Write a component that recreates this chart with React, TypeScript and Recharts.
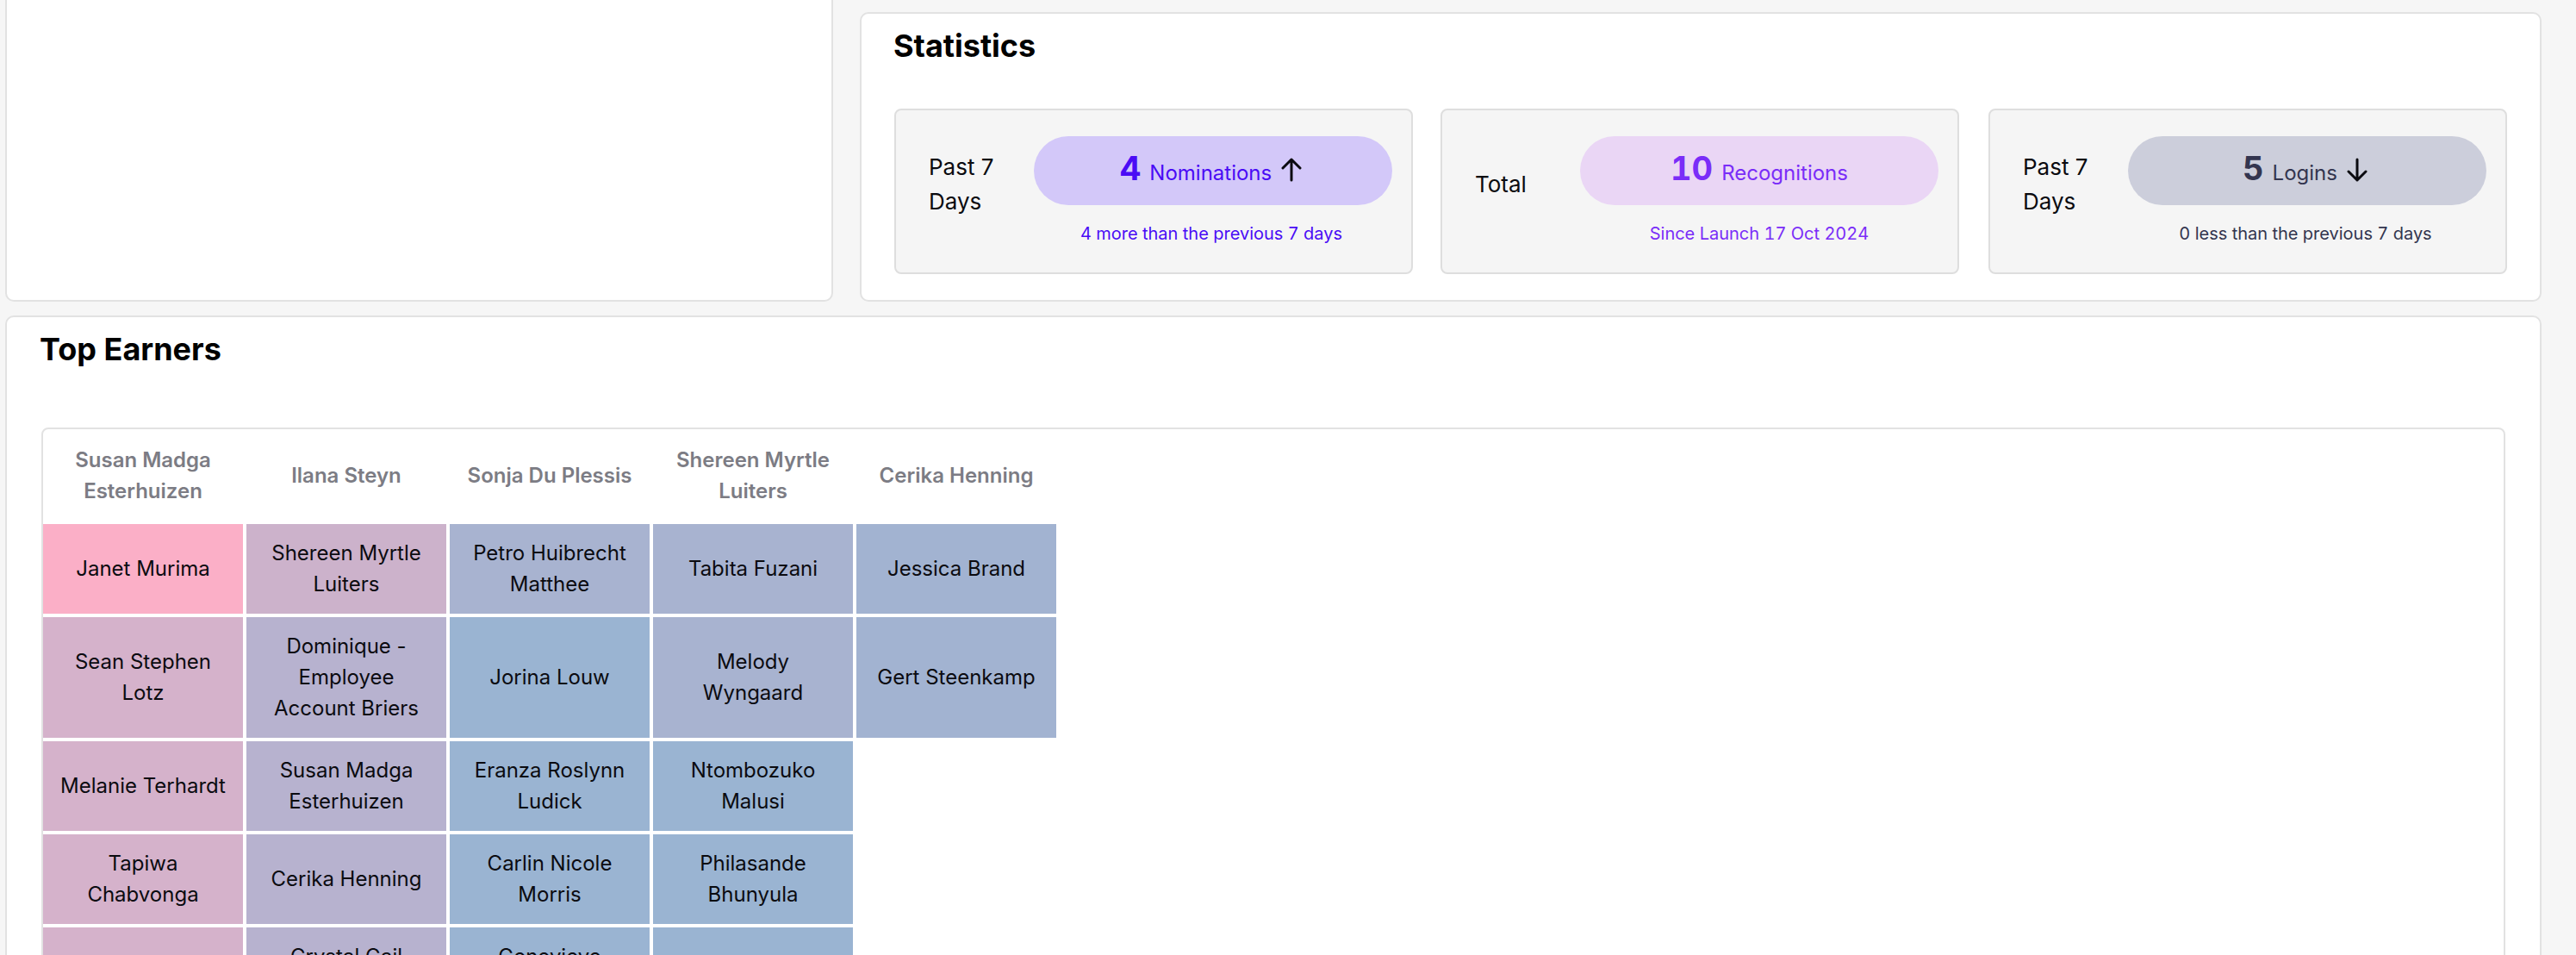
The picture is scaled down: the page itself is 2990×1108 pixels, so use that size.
import { BarChart, Bar, XAxis, YAxis, Text } from "recharts";

const FONT = "Inter, sans-serif";

const STAT_PERIODS = ["Past 7 Days", "Total", "Past 7 Days"];
const STAT_VALUES = [4, 10, 5];
const STAT_UNITS = ["Nominations", "Recognitions", "Logins"];
const STAT_ARROWS = ["up", null, "down"];
const STAT_NOTES = [
  "4 more than the previous 7 days",
  "Since Launch 17 Oct 2024",
  "0 less than the previous 7 days",
];
const STAT_INK = ["#4a0cf5", "#7a2df8", "#33354f"];
const STAT_PILLS = ["#d3c8f9", "#ead6f5", "#cccedb"];
const STAT_LEFT = [1038, 1672, 2308];

const COLUMN_HEADERS = [
  "Susan Madga Esterhuizen",
  "Ilana Steyn",
  "Sonja Du Plessis",
  "Shereen Myrtle Luiters",
  "Cerika Henning",
];
// names under each header, top to bottom. The last row is cut off by the window
const COLUMN_1 = ["Janet Murima", "Sean Stephen Lotz", "Melanie Terhardt", "Tapiwa Chabvonga", ""];
const COLUMN_2 = ["Shereen Myrtle Luiters", "Dominique - Employee Account Briers", "Susan Madga Esterhuizen", "Cerika Henning", "Crystal Gail"];
const COLUMN_3 = ["Petro Huibrecht Matthee", "Jorina Louw", "Eranza Roslynn Ludick", "Carlin Nicole Morris", "Genevieve"];
const COLUMN_4 = ["Tabita Fuzani", "Melody Wyngaard", "Ntombozuko Malusi", "Philasande Bhunyula", ""];
const COLUMN_5 = ["Jessica Brand", "Gert Steenkamp"];
const COLUMNS = [COLUMN_1, COLUMN_2, COLUMN_3, COLUMN_4, COLUMN_5];

// text lines in the tallest cell of each row
const ROW_LINES = [2, 3, 2, 2, 2];

// colour band of every cell
const CELL_BANDS = [
  [0, 1, 1, 1, 1],
  [2, 3, 3, 3, 3],
  [4, 5, 5, 5, 5],
  [4, 4, 5, 5, 5],
  [6, 6],
];
const BAND_COLORS = ["#fbafc7", "#d5b2cb", "#ccb2cb", "#b7b2cf", "#a8b3d0", "#9ab4d2", "#a2b3d1"];

const LINE_HEIGHT = 36;
const ROW_PADDING = 36;
const TEXT_NUDGE = 1;
const rowSpan = (lines: number) => lines * LINE_HEIGHT + ROW_PADDING;
const TOTAL_SPAN = ROW_LINES.reduce((sum, lines) => sum + rowSpan(lines), 0);
const HEADER_HEIGHT = 108;

const tableData = COLUMN_HEADERS.map((header, c) => {
  const row: Record<string, string | number> = { header };
  COLUMNS[c].forEach((_, r) => {
    row[`row${r}`] = rowSpan(ROW_LINES[r]);
  });
  return row;
});

function HeaderTick({ x, y, payload }: any) {
  return (
    <Text
      x={x}
      y={y - HEADER_HEIGHT / 2 - TEXT_NUDGE}
      width={200}
      textAnchor="middle"
      verticalAnchor="middle"
      lineHeight="1.5em"
      fill="#7c7c84"
      style={{ fontFamily: FONT, fontSize: "24px", fontWeight: 600 }}
    >
      {payload.value}
    </Text>
  );
}

function renderCell(rowIndex: number) {
  return (props: any) => {
    const { x, width, index } = props;
    const name = COLUMNS[index][rowIndex];
    if (name === undefined) return <g />;
    // the axis is reversed, so a bar can come with a negative height
    const top = Math.min(props.y, props.y + props.height);
    const height = Math.abs(props.height);
    // the rest of these names falls below the window, so the visible line sits where a first line would
    const isCutOff = rowIndex === ROW_LINES.length - 1;
    const textY = top + height / 2 - TEXT_NUDGE - (isCutOff ? LINE_HEIGHT / 2 : 0);
    return (
      <g>
        <rect
          x={x}
          y={top + 2}
          width={width}
          height={height - 4}
          fill={BAND_COLORS[CELL_BANDS[index][rowIndex]]}
        />
        <Text
          x={x + width / 2}
          y={textY}
          width={200}
          textAnchor="middle"
          verticalAnchor="middle"
          lineHeight="1.5em"
          fill="#0b0b10"
          style={{ fontFamily: FONT, fontSize: "24px", fontWeight: 400 }}
        >
          {name}
        </Text>
      </g>
    );
  };
}

function Arrow({ dir }: { dir: string }) {
  return (
    <svg width={26} height={28} viewBox="0 0 26 28" style={{ alignSelf: "center", marginTop: -2 }}>
      <path
        d={dir === "up" ? "M13 26V2M3 12L13 2L23 12" : "M13 2V26M3 16L13 26L23 16"}
        fill="none"
        stroke="#0b0b10"
        strokeWidth={3}
        strokeLinecap="round"
        strokeLinejoin="round"
      />
    </svg>
  );
}

function StatCard({ i }: { i: number }) {
  const hasArrow = STAT_ARROWS[i] !== null;
  return (
    <div
      style={{
        position: "absolute", left: STAT_LEFT[i], top: 126, width: 602, height: 192,
        boxSizing: "border-box", background: "#f5f5f5", border: "2px solid #dedede", borderRadius: 8,
      }}
    >
      <div
        style={{
          position: "absolute", left: 38, top: 0, height: 172, width: 110,
          display: "flex", alignItems: "center", fontSize: 26, lineHeight: "40px", color: "#0b0b10",
        }}
      >
        {STAT_PERIODS[i]}
      </div>
      <div
        style={{
          position: "absolute", left: 160, top: 30, width: 416, height: 80, borderRadius: 40,
          boxSizing: "border-box", paddingRight: hasArrow ? 4 : 0,
          background: STAT_PILLS[i], color: STAT_INK[i],
          display: "flex", alignItems: "baseline", justifyContent: "center", gap: 10,
          lineHeight: "75px", fontVariantNumeric: "tabular-nums",
        }}
      >
        <span style={{ fontSize: 38, fontWeight: 700 }}>{STAT_VALUES[i]}</span>
        <span style={{ fontSize: 24 }}>{STAT_UNITS[i]}</span>
        {hasArrow && <Arrow dir={STAT_ARROWS[i] as string} />}
      </div>
      <div
        style={{
          position: "absolute", left: hasArrow ? 158 : 160, top: 128, width: 416, textAlign: "center",
          fontSize: 20, lineHeight: "30px", color: STAT_INK[i], fontVariantNumeric: "tabular-nums",
        }}
      >
        {STAT_NOTES[i]}
      </div>
    </div>
  );
}

const panel = {
  position: "absolute" as const,
  boxSizing: "border-box" as const,
  background: "#fff",
  border: "2px solid #e2e2e2",
  borderRadius: 10,
};

export default function App() {
  return (
    <div
      style={{
        position: "fixed", left: 0, top: 0, width: 2990, height: 1108, overflow: "hidden",
        background: "#f6f6f6", fontFamily: FONT,
      }}
    >
      <div style={{ ...panel, left: 6, top: -40, width: 961, height: 390 }} />
      <div style={{ ...panel, left: 998, top: 14, width: 1952, height: 336 }} />
      <div style={{ position: "absolute", left: 1037, top: 30, fontSize: 36, fontWeight: 700, lineHeight: "46px", color: "#000" }}>
        Statistics
      </div>
      {STAT_VALUES.map((_, i) => (
        <StatCard key={i} i={i} />
      ))}

      <div style={{ ...panel, left: 6, top: 366, width: 2944, height: 900 }} />
      <div style={{ position: "absolute", left: 46, top: 382, fontSize: 36, fontWeight: 700, lineHeight: "46px", color: "#000" }}>
        Top Earners
      </div>

      <div style={{ ...panel, left: 48, top: 496, width: 2860, height: 800, borderRadius: 8 }} />
      <div style={{ position: "absolute", left: 48, top: 498 }}>
        <BarChart
          width={1180}
          height={HEADER_HEIGHT + TOTAL_SPAN}
          data={tableData}
          margin={{ top: 0, right: 0, bottom: 0, left: 0 }}
          barCategoryGap={2}
        >
          <XAxis
            dataKey="header"
            orientation="top"
            height={HEADER_HEIGHT}
            axisLine={false}
            tickLine={false}
            tickSize={0}
            tickMargin={0}
            interval={0}
            tick={HeaderTick}
          />
          <YAxis type="number" hide reversed domain={[0, TOTAL_SPAN]} />
          {ROW_LINES.map((_, r) => (
            <Bar
              key={r}
              dataKey={`row${r}`}
              stackId="names"
              isAnimationActive={false}
              shape={renderCell(r)}
            />
          ))}
        </BarChart>
      </div>
    </div>
  );
}
